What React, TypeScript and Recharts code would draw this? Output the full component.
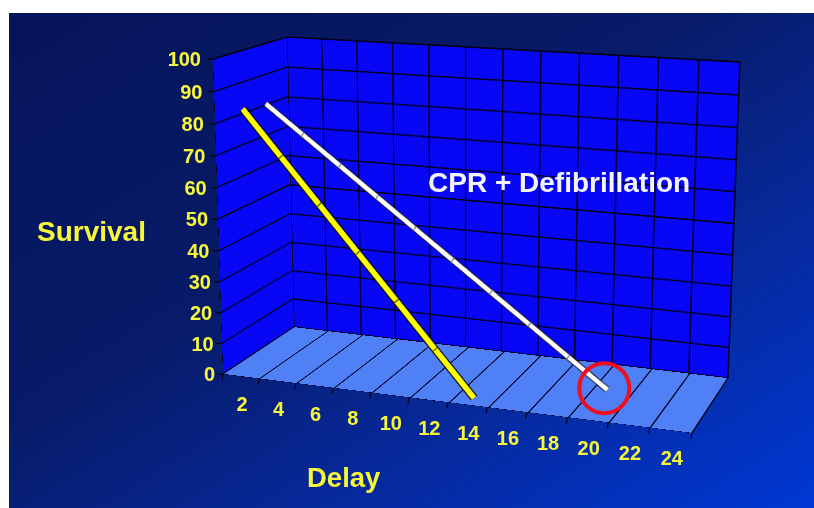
import React from 'react';
import { LineChart, Line, XAxis, YAxis, CartesianGrid } from 'recharts';

// ---------- data ----------
const delays = [2, 4, 6, 8, 10, 12, 14, 16, 18, 20, 22, 24];
const survivalTicks = [0, 10, 20, 30, 40, 50, 60, 70, 80, 90, 100];
const defibDelays = [2, 4, 6, 8, 10, 12, 14];
const defibSurvival = [84, 70, 56, 42, 28, 14, 0];
const cprDelays = [2, 4, 6, 8, 10, 12, 14, 16, 18, 20];
const cprSurvival = [83, 74, 65, 56, 47, 38, 29, 20, 11, 2];

const defibData = defibDelays.map((x, i) => ({ x, y: defibSurvival[i] }));
const cprData = cprDelays.map((x, i) => ({ x, y: cprSurvival[i] }));
const gridX = [delays[0] - 1, ...delays.map((d) => d + 1)];
const X_DOMAIN: [number, number] = [gridX[0], gridX[gridX.length - 1]];

// ---------- styling / geometry ----------
const FONT = '"Liberation Sans", Arial, Helvetica, sans-serif';
const YELLOW = '#f7f73a';
const WALL = '#0707f6';
const FLOOR = '#4f80f6';
const GRID = '#00001a';

type P = [number, number];
const lerp = (a: P, b: P, t: number): P => [a[0] + (b[0] - a[0]) * t, a[1] + (b[1] - a[1]) * t];

// box corners on the page (F = front, B = back, L/R, b = bottom, t = top)
const FLb: P = [223, 374];
const BLb: P = [294, 327];
const FRb: P = [692, 433];
const BRb: P = [728, 378];
const FLt: P = [213, 59];
const BLt: P = [287, 37];
const FRt: P = [700, 92];
const BRt: P = [740, 62];

const planeAt = (w: number): P[] => [lerp(FLt, BLt, w), lerp(FRt, BRt, w), lerp(FRb, BRb, w), lerp(FLb, BLb, w)];
const FRONT = planeAt(0);
const DEPTH_DEFIB = 0.13;
const DEPTH_CPR = 0.45;

function squareToQuad(q: P[]) {
  const [[x0, y0], [x1, y1], [x2, y2], [x3, y3]] = q;
  const dx1 = x1 - x2, dx2 = x3 - x2, sx = x0 - x1 + x2 - x3;
  const dy1 = y1 - y2, dy2 = y3 - y2, sy = y0 - y1 + y2 - y3;
  const den = dx1 * dy2 - dx2 * dy1;
  const g = (sx * dy2 - dx2 * sy) / den;
  const h = (dx1 * sy - sx * dy1) / den;
  return {
    a: x1 - x0 + g * x1, b: x3 - x0 + h * x3, c: x0,
    d: y1 - y0 + g * y1, e: y3 - y0 + h * y3, f: y0, g, h,
  };
}
function project(q: P[], u: number, v: number): P {
  const { a, b, c, d, e, f, g, h } = squareToQuad(q);
  const den = g * u + h * v + 1;
  return [(a * u + b * v + c) / den, (d * u + e * v + f) / den];
}
const uOf = (x: number) => (x - X_DOMAIN[0]) / (X_DOMAIN[1] - X_DOMAIN[0]);
const vOf = (s: number) => 1 - s / 100;

const PW = 600, PH = 400, PM = 6;

function Plane({ quad, data, children }: { quad: P[]; data?: any[]; children: React.ReactNode }) {
  const { a, b, c, d, e, f, g, h } = squareToQuad(quad);
  const Wp = PW - 2 * PM, Hp = PH - 2 * PM;
  const m = [
    a / Wp, d / Wp, 0, g / Wp,
    b / Hp, e / Hp, 0, h / Hp,
    0, 0, 1, 0,
    c - (a * PM) / Wp - (b * PM) / Hp, f - (d * PM) / Wp - (e * PM) / Hp, 0, 1 - (g * PM) / Wp - (h * PM) / Hp,
  ];
  return (
    <div style={{ position: 'absolute', left: 0, top: 0, width: PW, height: PH, transformOrigin: '0 0', transform: `matrix3d(${m.join(',')})` }}>
      <LineChart width={PW} height={PH} data={data} margin={{ top: PM, right: PM, bottom: PM, left: PM }}>
        {children}
      </LineChart>
    </div>
  );
}

// small dark joint marks where the 3D ribbon segments meet
const makeJoint = (series: { x: number; y: number }[], color: string) => (props: any) => {
  const { cx, cy, index } = props;
  if (index === 0 || index === series.length - 1 || cx == null) return <g key={`j${index}`} />;
  const dxPlane = ((series[index + 1].x - series[index - 1].x) / (X_DOMAIN[1] - X_DOMAIN[0])) * (PW - 2 * PM);
  const dyPlane = ((series[index - 1].y - series[index + 1].y) / 100) * (PH - 2 * PM);
  const len = Math.hypot(dxPlane, dyPlane);
  const nx = -dyPlane / len, ny = dxPlane / len;
  const s = 4;
  return <line key={`j${index}`} x1={cx - nx * s} y1={cy - ny * s} x2={cx + nx * s} y2={cy + ny * s} stroke={color} strokeWidth={1.3} />;
};

const XTick = (props: any) => {
  const c = props.payload.value as number;
  const [x, y] = project(FRONT, uOf(c), 1);
  const [bx, by] = project(FRONT, uOf(c + 1), 1);
  const first = c === delays[0];
  const [ax, ay] = project(FRONT, uOf(c - 1), 1);
  return (
    <g>
      <line x1={bx} y1={by} x2={bx - 1} y2={by + 6} stroke={GRID} strokeWidth={1.2} />
      {first && <line x1={ax} y1={ay} x2={ax - 1} y2={ay + 6} stroke={GRID} strokeWidth={1.2} />}
      <text x={x + 1} y={y + 35} textAnchor="middle" fill={YELLOW} fontSize={20} fontWeight="bold" fontFamily={FONT}>
        {c}
      </text>
    </g>
  );
};

const YTick = (props: any) => {
  const v = props.payload.value as number;
  const [x, y] = project(FRONT, 0, vOf(v));
  return (
    <g>
      <line x1={x} y1={y} x2={x - 6} y2={y} stroke={GRID} strokeWidth={1.2} />
      <text x={x - 12 + 4 * (1 - v / 100)} y={y + 7} textAnchor="end" fill={YELLOW} fontSize={20} fontWeight="bold" fontFamily={FONT}>
        {v}
      </text>
    </g>
  );
};

export default function App() {
  const lastCpr = cprData[cprData.length - 1];
  const circ = project(planeAt(DEPTH_CPR), uOf(lastCpr.x), vOf(lastCpr.y));
  return (
    <div style={{ position: 'absolute', left: 0, top: 0, width: 814, height: 508, background: '#fff', overflow: 'hidden' }}>
      <div
        style={{
          position: 'absolute', left: 9, top: 13, width: 805, height: 495,
          background: 'linear-gradient(to bottom right, #06145a 0%, #081b68 42%, #062aa0 72%, #0038d4 100%)',
        }}
      />
      {/* back wall */}
      <Plane quad={[BLt, BRt, BRb, BLb]} data={defibData}>
        <XAxis type="number" dataKey="x" domain={X_DOMAIN} ticks={gridX} allowDataOverflow hide />
        <YAxis type="number" domain={[0, 100]} ticks={survivalTicks} allowDataOverflow hide />
        <CartesianGrid stroke={GRID} strokeWidth={1.8} fill={WALL} fillOpacity={1} />
      </Plane>
      {/* left wall */}
      <Plane quad={[FLt, BLt, BLb, FLb]} data={[{ x: 0 }, { x: 1 }]}>
        <XAxis type="number" dataKey="x" domain={[0, 1]} ticks={[0, 1]} allowDataOverflow hide />
        <YAxis type="number" domain={[0, 100]} ticks={survivalTicks} allowDataOverflow hide />
        <CartesianGrid stroke={GRID} strokeWidth={1.8} fill={WALL} fillOpacity={1} />
      </Plane>
      {/* floor */}
      <Plane quad={[BLb, BRb, FRb, FLb]} data={defibData}>
        <XAxis type="number" dataKey="x" domain={X_DOMAIN} ticks={gridX} allowDataOverflow hide />
        <YAxis type="number" domain={[0, 1]} ticks={[0, 1]} allowDataOverflow hide />
        <CartesianGrid stroke={GRID} strokeWidth={1.8} fill={FLOOR} fillOpacity={1} />
      </Plane>
      {/* CPR + defibrillation series (further back) */}
      <Plane quad={planeAt(DEPTH_CPR)} data={cprData}>
        <XAxis type="number" dataKey="x" domain={X_DOMAIN} hide />
        <YAxis type="number" domain={[0, 100]} hide />
        <Line type="linear" dataKey="y" stroke="#1a1a2a" strokeWidth={8.5} dot={false} isAnimationActive={false} />
        <Line type="linear" dataKey="y" stroke="#ffffff" strokeWidth={6} dot={makeJoint(cprData, '#6a6a7a')} isAnimationActive={false} />
      </Plane>
      {/* defibrillation only series (front) */}
      <Plane quad={planeAt(DEPTH_DEFIB)} data={defibData}>
        <XAxis type="number" dataKey="x" domain={X_DOMAIN} hide />
        <YAxis type="number" domain={[0, 100]} hide />
        <Line type="linear" dataKey="y" stroke="#000000" strokeWidth={10.5} dot={false} isAnimationActive={false} />
        <Line type="linear" dataKey="y" stroke="#ffff00" strokeWidth={7.5} dot={makeJoint(defibData, '#3a3a10')} isAnimationActive={false} />
      </Plane>
      {/* axes labels overlay */}
      <div style={{ position: 'absolute', left: 0, top: 0 }}>
        <LineChart width={814} height={508} data={defibData} margin={{ top: 59, right: 122, bottom: 75, left: 163 }}>
          <XAxis type="number" dataKey="x" domain={X_DOMAIN} ticks={delays} interval={0} allowDataOverflow axisLine={false} tickLine={false} tick={<XTick />} />
          <YAxis type="number" domain={[0, 100]} ticks={survivalTicks} interval={0} allowDataOverflow axisLine={false} tickLine={false} tick={<YTick />} />
        </LineChart>
      </div>
      <svg width={814} height={508} style={{ position: 'absolute', left: 0, top: 0 }}>
        <text x={37} y={241} fill={YELLOW} fontSize={28} fontWeight="bold" fontFamily={FONT}>Survival</text>
        <text x={307} y={487} fill={YELLOW} fontSize={27.5} fontWeight="bold" fontFamily={FONT}>Delay</text>
        <text x={428} y={192} fill="#f4f4ff" fontSize={28} fontWeight="bold" fontFamily={FONT}>CPR + Defibrillation</text>
        <circle cx={circ[0] - 3} cy={circ[1] - 1.5} r={25} fill="none" stroke="#ee1020" strokeWidth={4} />
      </svg>
    </div>
  );
}
